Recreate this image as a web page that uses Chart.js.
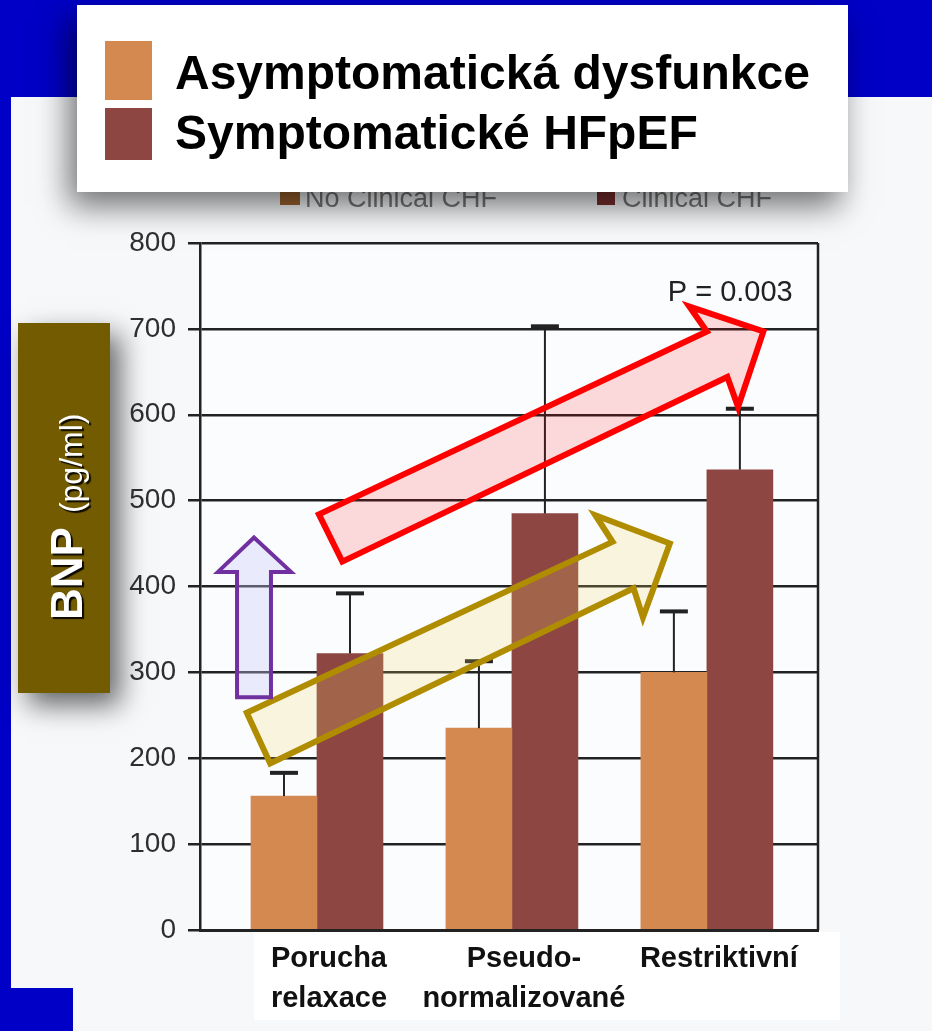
<!DOCTYPE html>
<html>
<head>
<meta charset="utf-8">
<script src="https://cdn.jsdelivr.net/npm/chart.js@4.4.0/dist/chart.umd.min.js"></script>
<style>
  html, body { margin: 0; padding: 0; background: #0000c6; }
  #wrap { width: 932px; height: 1031px; }
</style>
</head>
<body>
<div id="wrap"><canvas id="bnpChart" width="932" height="1031"></canvas></div>
<script>
// Categories and series
const categories = [['Porucha', 'relaxace'], ['Pseudo-', 'normalizované'], ['Restriktivní']];
const seriesNames = ['Asymptomatická dysfunkce', 'Symptomatické HFpEF'];
const seriesColors = ['#d3894f', '#8e4643'];
const asymptomatic = [156, 235, 300];
const symptomatic = [322, 485, 536];
// top of the error bar whiskers
const asymptomaticErrTop = [183, 313, 371];
const symptomaticErrTop = [392, 703, 607];
const yMax = 800;
const yStep = 100;

const oldLegend = ['No Clinical CHF', 'Clinical CHF'];
const pValueText = 'P = 0.003';
const axisTitle = ['BNP', '(pg/ml)'];

// annotation arrows, in data space [category index, BNP value]
const redArrow = [[0.01, 484], [0.13, 429], [2.105, 644], [2.16, 609], [2.29, 697], [1.91, 726], [2.0, 697]];
const oliveArrow = [[-0.36, 253], [-0.24, 194], [1.624, 398], [1.672, 364], [1.81, 450], [1.428, 483], [1.516, 452]];
const purpleArrow = [[-0.41, 271], [-0.236, 271], [-0.236, 417], [-0.133, 417], [-0.323, 457], [-0.508, 417], [-0.41, 417]];
const pValuePos = [2.12, 733];

const FONT = "'Liberation Sans', Arial, sans-serif";

const backdrop = {
  id: 'backdrop',
  beforeDraw(chart) {
    const ctx = chart.ctx;
    const W = chart.width, H = chart.height;
    ctx.save();
    ctx.fillStyle = '#0000c6';
    ctx.fillRect(0, 0, W, H);
    // slide panel
    ctx.fillStyle = '#f6f8fa';
    ctx.fillRect(11, 97, W - 11, H - 97);
    ctx.fillStyle = '#0000c6';
    ctx.fillRect(0, 988, 73, H - 988);
    const a = chart.chartArea;
    ctx.fillStyle = '#fbfcfd';
    ctx.fillRect(a.left, a.top, a.right - a.left, a.bottom - a.top);
    ctx.fillStyle = '#ffffff';
    ctx.fillRect(254, a.bottom + 2, 586, 88);

    // old legend, mostly covered by the new one
    ctx.fillStyle = '#a0652f';
    ctx.fillRect(280, 190, 20, 15);
    ctx.fillStyle = '#7c2e2e';
    ctx.fillRect(597, 190, 18, 15);
    ctx.fillStyle = '#777';
    ctx.font = '27px ' + FONT;
    ctx.textBaseline = 'alphabetic';
    ctx.fillText(oldLegend[0], 305, 207);
    ctx.fillText(oldLegend[1], 622, 207);

    // new legend box with shadow
    ctx.save();
    ctx.shadowColor = 'rgba(0,0,0,0.55)';
    ctx.shadowBlur = 30;
    ctx.shadowOffsetX = -8;
    ctx.shadowOffsetY = 14;
    ctx.fillStyle = '#ffffff';
    ctx.fillRect(77, 5, 771, 187);
    ctx.restore();

    const ds = chart.data.datasets;
    const rows = [{ y: 41, h: 59, base: 89 }, { y: 108, h: 52, base: 149 }];
    ds.forEach((d, i) => {
      ctx.fillStyle = d.backgroundColor;
      ctx.fillRect(105, rows[i].y, 47, rows[i].h);
      ctx.fillStyle = '#000';
      ctx.font = 'bold 48px ' + FONT;
      ctx.fillText(d.label, 175, rows[i].base);
    });

    // axis title box
    ctx.save();
    ctx.shadowColor = 'rgba(0,0,0,0.6)';
    ctx.shadowBlur = 26;
    ctx.shadowOffsetX = 10;
    ctx.shadowOffsetY = 12;
    ctx.fillStyle = '#735b02';
    ctx.fillRect(18, 323, 92, 370);
    ctx.restore();

    ctx.save();
    ctx.translate(82, 620);
    ctx.rotate(-Math.PI / 2);
    ctx.shadowColor = 'rgba(0,0,0,0.9)';
    ctx.shadowOffsetX = 2;
    ctx.shadowOffsetY = 2;
    ctx.shadowBlur = 1;
    ctx.fillStyle = '#ffffff';
    ctx.font = 'bold 44px ' + FONT;
    ctx.fillText(axisTitle[0], 0, 0);
    const w = ctx.measureText(axisTitle[0]).width;
    ctx.font = '32px ' + FONT;
    ctx.fillText(axisTitle[1], w + 14, 0);
    ctx.restore();

    ctx.restore();
  }
};

function drawArrow(ctx, chart, pts, stroke, fill, lw) {
  const x = chart.scales.x, y = chart.scales.y;
  ctx.beginPath();
  pts.forEach((p, i) => {
    const px = x.getPixelForValue(p[0]);
    const py = y.getPixelForValue(p[1]);
    if (i === 0) ctx.moveTo(px, py); else ctx.lineTo(px, py);
  });
  ctx.closePath();
  ctx.fillStyle = fill;
  ctx.fill();
  ctx.lineWidth = lw;
  ctx.lineJoin = 'miter';
  ctx.strokeStyle = stroke;
  ctx.stroke();
}

const overlays = {
  id: 'overlays',
  afterDatasetsDraw(chart) {
    const ctx = chart.ctx;
    const a = chart.chartArea;
    const yScale = chart.scales.y;
    ctx.save();
    // right frame line
    ctx.strokeStyle = '#222';
    ctx.lineWidth = 2.5;
    ctx.beginPath();
    ctx.moveTo(a.right, a.top);
    ctx.lineTo(a.right, a.bottom);
    ctx.stroke();

    // error bars
    const tops = [asymptomaticErrTop, symptomaticErrTop];
    chart.data.datasets.forEach((d, di) => {
      const meta = chart.getDatasetMeta(di);
      meta.data.forEach((bar, i) => {
        const yTop = yScale.getPixelForValue(tops[di][i]);
        ctx.strokeStyle = '#222';
        ctx.lineWidth = 2;
        ctx.beginPath();
        ctx.moveTo(bar.x, bar.y);
        ctx.lineTo(bar.x, yTop);
        ctx.stroke();
        ctx.lineWidth = 4;
        ctx.beginPath();
        ctx.moveTo(bar.x - 14, yTop);
        ctx.lineTo(bar.x + 14, yTop);
        ctx.stroke();
      });
    });

    ctx.fillStyle = '#222';
    ctx.font = '29px ' + FONT;
    ctx.textAlign = 'center';
    ctx.textBaseline = 'alphabetic';
    ctx.fillText(pValueText, chart.scales.x.getPixelForValue(pValuePos[0]), yScale.getPixelForValue(pValuePos[1]));

    drawArrow(ctx, chart, oliveArrow, '#b08c00', 'rgba(240,215,100,0.2)', 6);
    drawArrow(ctx, chart, redArrow, '#ff0000', 'rgba(255,0,0,0.14)', 6);
    drawArrow(ctx, chart, purpleArrow, '#7030a0', 'rgba(200,200,245,0.35)', 4);
    ctx.restore();
  }
};

const toPoints = vals => vals.map((v, i) => ({ x: i, y: v }));

new Chart(document.getElementById('bnpChart'), {
  type: 'bar',
  data: {
    datasets: [
      { label: seriesNames[0], data: toPoints(asymptomatic), backgroundColor: seriesColors[0] },
      { label: seriesNames[1], data: toPoints(symptomatic), backgroundColor: seriesColors[1] }
    ]
  },
  options: {
    responsive: false,
    animation: false,
    devicePixelRatio: 1,
    barThickness: 66,
    layout: { padding: { top: 243, left: 0, right: 114, bottom: 0 } },
    plugins: { legend: { display: false }, tooltip: { enabled: false } },
    scales: {
      x: {
        type: 'linear',
        offset: false,
        min: -0.6,
        max: 2.57,
        grid: { display: false, offset: false },
        border: { display: true, color: '#222', width: 3 },
        afterBuildTicks(scale) { scale.ticks = categories.map((c, i) => ({ value: i })); },
        afterFit(scale) { scale.height = 101; },
        ticks: {
          autoSkip: false,
          maxRotation: 0,
          padding: 1,
          labelOffset: 12,
          color: '#111',
          font: { family: FONT, size: 29, weight: 'bold', lineHeight: 1.38 },
          callback: v => categories[v] || ''
        }
      },
      y: {
        min: 0,
        max: yMax,
        afterFit(scale) { scale.width = 200; },
        grid: { color: '#222', lineWidth: 2.5, tickLength: 12, tickColor: '#222' },
        border: { display: true, color: '#222', width: 2.5 },
        ticks: {
          stepSize: yStep,
          padding: 12,
          color: '#2e2e2e',
          font: { family: FONT, size: 28 }
        }
      }
    }
  },
  plugins: [backdrop, overlays]
});
</script>
</body>
</html>
